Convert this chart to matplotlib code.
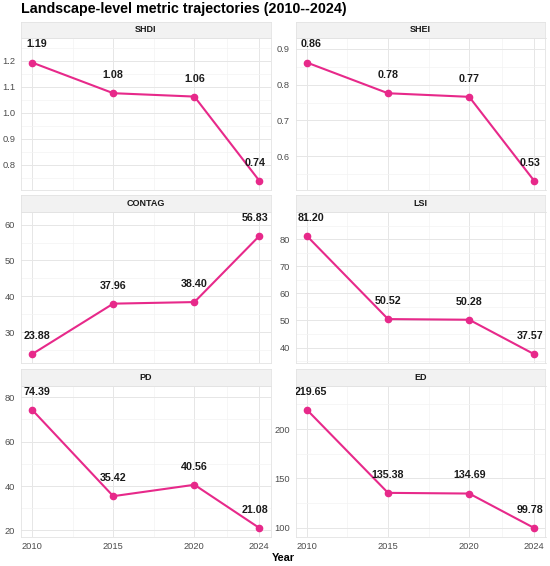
import matplotlib
matplotlib.use("Agg")
import matplotlib.pyplot as plt
from matplotlib.ticker import FixedLocator, AutoMinorLocator, FormatStrFormatter

plt.rcParams['font.family'] = ['Liberation Sans', 'DejaVu Sans']

years = [2010, 2015, 2020, 2024]
metrics = ["SHDI", "SHEI", "CONTAG", "LSI", "PD", "ED"]
shdi = [1.194, 1.076, 1.063, 0.739]
shei = [0.862, 0.776, 0.766, 0.531]
contag = [23.88, 37.96, 38.40, 56.83]
lsi = [81.20, 50.52, 50.28, 37.57]
pd_vals = [74.39, 35.42, 40.56, 21.08]
ed = [219.65, 135.38, 134.69, 99.78]
values = [shdi, shei, contag, lsi, pd_vals, ed]

y_ticks = [
    [0.8, 0.9, 1.0, 1.1, 1.2],
    [0.6, 0.7, 0.8, 0.9],
    [30, 40, 50, 60],
    [40, 50, 60, 70, 80],
    [20, 40, 60, 80],
    [100, 150, 200],
]
y_fmt = ["%.1f", "%.1f", "%d", "%d", "%d", "%d"]

W, H = 550, 566
DPI = 100
line_col = "#E7298A"
tick_col = "#4D4D4D"
label_dy = 13  # points above each marker
# small sideways nudge (points) so end labels sit inside the panel
label_dx = [3.2, 0, 0, -2.8]

fig = plt.figure(figsize=(W / DPI, H / DPI), dpi=DPI)

col_left = [20.7, 295.5]
panel_w = 250.0
row_top = [38.3, 211.7, 385.5]
panel_h = 151.7
strip_h = 16.6

for i, (name, vals) in enumerate(zip(metrics, values)):
    r, c = divmod(i, 2)
    x0 = col_left[c]
    y0 = row_top[r]
    ax = fig.add_axes([x0 / W, 1 - (y0 + panel_h) / H, panel_w / W, panel_h / H])

    # facet strip
    sax = fig.add_axes([x0 / W, 1 - y0 / H, panel_w / W, strip_h / H])
    sax.set_facecolor("#F2F2F2")
    sax.set_xticks([])
    sax.set_yticks([])
    for s in sax.spines.values():
        s.set_color("#E3E3E3")
        s.set_linewidth(0.6)
    sax.text(0.5, 0.5, name, ha="center", va="center", fontsize=6.5,
             fontweight="bold", color="#1A1A1A", transform=sax.transAxes)

    ax.plot(years, vals, color=line_col, lw=1.5, marker="o", ms=4.5,
            zorder=3, clip_on=False)
    for x, v, dx in zip(years, vals, label_dx):
        ax.annotate(f"{v:.2f}", (x, v), xytext=(dx, label_dy),
                    textcoords="offset points", ha="center", va="center",
                    fontsize=7.7, fontweight="bold", color="#1A1A1A",
                    annotation_clip=True, clip_on=True, zorder=4)

    lo, hi = min(vals), max(vals)
    rng = hi - lo
    ax.set_ylim(lo - 0.078 * rng, hi + 0.205 * rng)
    ax.set_xlim(2010 - 0.7, 2024 + 0.7)

    ax.xaxis.set_major_locator(FixedLocator(years))
    ax.xaxis.set_minor_locator(FixedLocator([2012.5, 2017.5, 2022]))
    ax.yaxis.set_major_locator(FixedLocator(y_ticks[i]))
    ax.yaxis.set_minor_locator(AutoMinorLocator(2))
    ax.yaxis.set_major_formatter(FormatStrFormatter(y_fmt[i]))

    ax.grid(which="major", color="#E6E6E6", lw=0.7)
    ax.grid(which="minor", color="#F3F3F3", lw=0.5)
    ax.set_axisbelow(True)
    ax.tick_params(which="both", length=0, labelsize=6.7, labelcolor=tick_col)
    ax.tick_params(axis="y", pad=4)
    ax.tick_params(axis="x", pad=3.5)
    if r < 2:
        ax.tick_params(axis="x", labelbottom=False)
    for s in ax.spines.values():
        s.set_color("#E3E3E3")
        s.set_linewidth(0.6)

fig.text(20.7 / W, 1 - 13.3 / H, "Landscape-level metric trajectories (2010--2024)",
         ha="left", va="baseline", fontsize=10.3, fontweight="bold")
fig.text(283 / W, 1 - 558 / H, "Year", ha="center", va="center",
         fontsize=7.8, fontweight="bold")

fig.savefig("out.png", dpi=DPI)
